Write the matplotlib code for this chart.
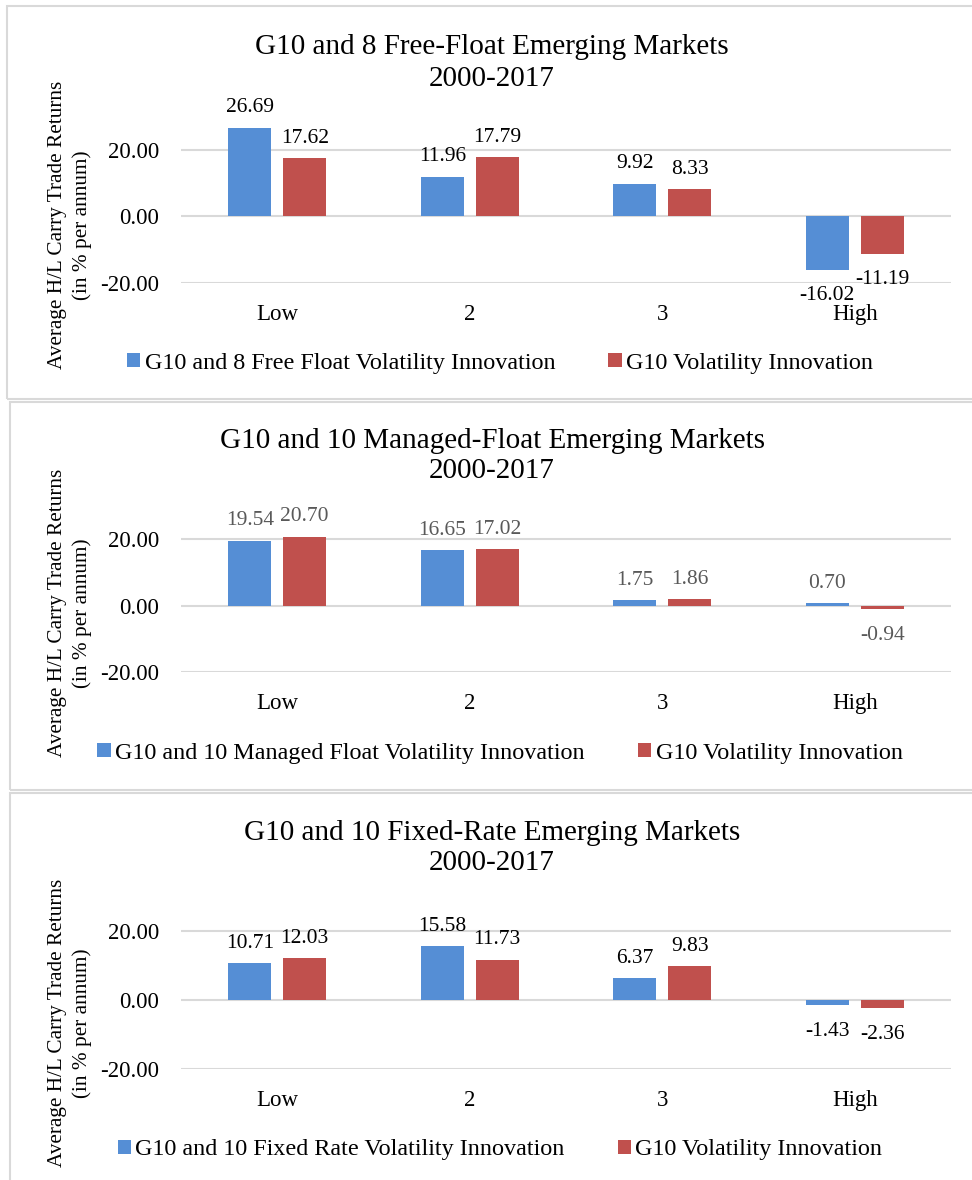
import matplotlib
matplotlib.use("Agg")
import matplotlib.pyplot as plt
from matplotlib.patches import Rectangle, Patch
import numpy as np

plt.rcParams['font.family'] = ['Liberation Serif', 'DejaVu Serif']

categories = ["Low", "2", "3", "High"]

titles = ["G10 and 8 Free-Float Emerging Markets\n2000-2017",
          "G10 and 10 Managed-Float Emerging Markets\n2000-2017",
          "G10 and 10 Fixed-Rate Emerging Markets\n2000-2017"]
series1_names = ["G10 and 8 Free Float Volatility Innovation",
                 "G10 and 10 Managed Float Volatility Innovation",
                 "G10 and 10 Fixed Rate Volatility Innovation"]
series2_name = "G10 Volatility Innovation"

free_float_em = [26.69, 11.96, 9.92, -16.02]
free_float_g10 = [17.62, 17.79, 8.33, -11.19]
managed_float_em = [19.54, 16.65, 1.75, 0.70]
managed_float_g10 = [20.70, 17.02, 1.86, -0.94]
fixed_rate_em = [10.71, 15.58, 6.37, -1.43]
fixed_rate_g10 = [12.03, 11.73, 9.83, -2.36]

yticks = [-20, 0, 20]
ylabel = "Average H/L Carry Trade Returns\n(in % per annum)"

W, H = 972, 1180
fig = plt.figure(figsize=(W / 100, H / 100), dpi=100)

BLUE = "#558ED5"
RED = "#C0504D"
GRID = "#D9D9D9"

def fx(px):
    return px / W

def fy(py):
    return 1 - py / H

# panel layout in pixels
panels = [
    dict(box=(7, 6, 1000, 399), zero=216.5, p20=150.0, title_y=63, ylab_y=225,
         leg_y=363, lblcolor="black",
         em=free_float_em, g10=free_float_g10),
    dict(box=(10, 402, 1000, 790), zero=605.7, p20=539.0, title_y=456, ylab_y=613,
         leg_y=753, lblcolor="#595959",
         em=managed_float_em, g10=managed_float_g10),
    dict(box=(10, 793, 1000, 1200), zero=1000.0, p20=931.0, title_y=848, ylab_y=1023,
         leg_y=1150, lblcolor="black",
         em=fixed_rate_em, g10=fixed_rate_g10),
]

x = np.arange(len(categories))
bw = 0.223
off = 0.1425
XL, XR = 181, 951

for i, p in enumerate(panels):
    # panel border
    x0, y0, x1, y1 = p["box"]
    fig.patches.append(Rectangle((fx(x0), fy(y1)), fx(x1 - x0), (y1 - y0) / H,
                                 transform=fig.transFigure, fill=False,
                                 edgecolor=GRID, linewidth=1.5, zorder=0))
    scale = (p["zero"] - p["p20"]) / 20.0
    ytop_val, ybot_val = 30, -20
    ytop = p["zero"] - ytop_val * scale
    ybot = p["zero"] - ybot_val * scale
    ax = fig.add_axes([fx(XL), fy(ybot), fx(XR - XL), (ybot - ytop) / H])
    ax.set_xlim(-0.5, len(categories) - 0.5)
    ax.set_ylim(ybot_val, ytop_val)
    ax.bar(x - off, p["em"], bw, color=BLUE, zorder=3)
    ax.bar(x + off, p["g10"], bw, color=RED, zorder=3)
    for v_list, xs in ((p["em"], x - off), (p["g10"], x + off)):
        for xv, v in zip(xs, v_list):
            if v >= 0:
                ax.annotate(f"{v:.2f}", (xv, v), xytext=(0, 11), textcoords="offset points",
                            ha="center", va="baseline", fontsize=15.5, color=p["lblcolor"])
            else:
                ax.annotate(f"{v:.2f}", (xv, v), xytext=(0, -12), textcoords="offset points",
                            ha="center", va="top", fontsize=15.5, color=p["lblcolor"])
    ax.set_yticks(yticks)
    ax.set_yticklabels([f"{t:.2f}" for t in yticks], fontsize=16.5)
    for t in yticks:
        ax.axhline(t, color=GRID, linewidth=1.5, zorder=1)
    ax.set_xticks(x)
    ax.set_xticklabels(categories, fontsize=16.5)
    ax.tick_params(axis="both", length=0)
    ax.tick_params(axis="y", pad=16)
    ax.tick_params(axis="x", pad=15)
    for s in ax.spines.values():
        s.set_visible(False)
    ax.set_facecolor("none")

    fig.text(fx(492), fy(p["title_y"]), titles[i], ha="center", va="center",
             fontsize=21, linespacing=1.25)
    fig.text(fx(70), fy(p["ylab_y"]), ylabel, ha="center", va="center",
             rotation=90, fontsize=15.3, multialignment="center", linespacing=1.4)
    handles = [Patch(facecolor=BLUE), Patch(facecolor=RED)]
    fig.legend(handles, [series1_names[i], series2_name], loc="center",
               bbox_to_anchor=(fx(500), fy(p["leg_y"])), ncol=2, frameon=False,
               fontsize=17.4, handlelength=0.55, handleheight=0.55, handletextpad=0.18,
               columnspacing=2.2)

fig.savefig("out.png", dpi=100, facecolor="white")
